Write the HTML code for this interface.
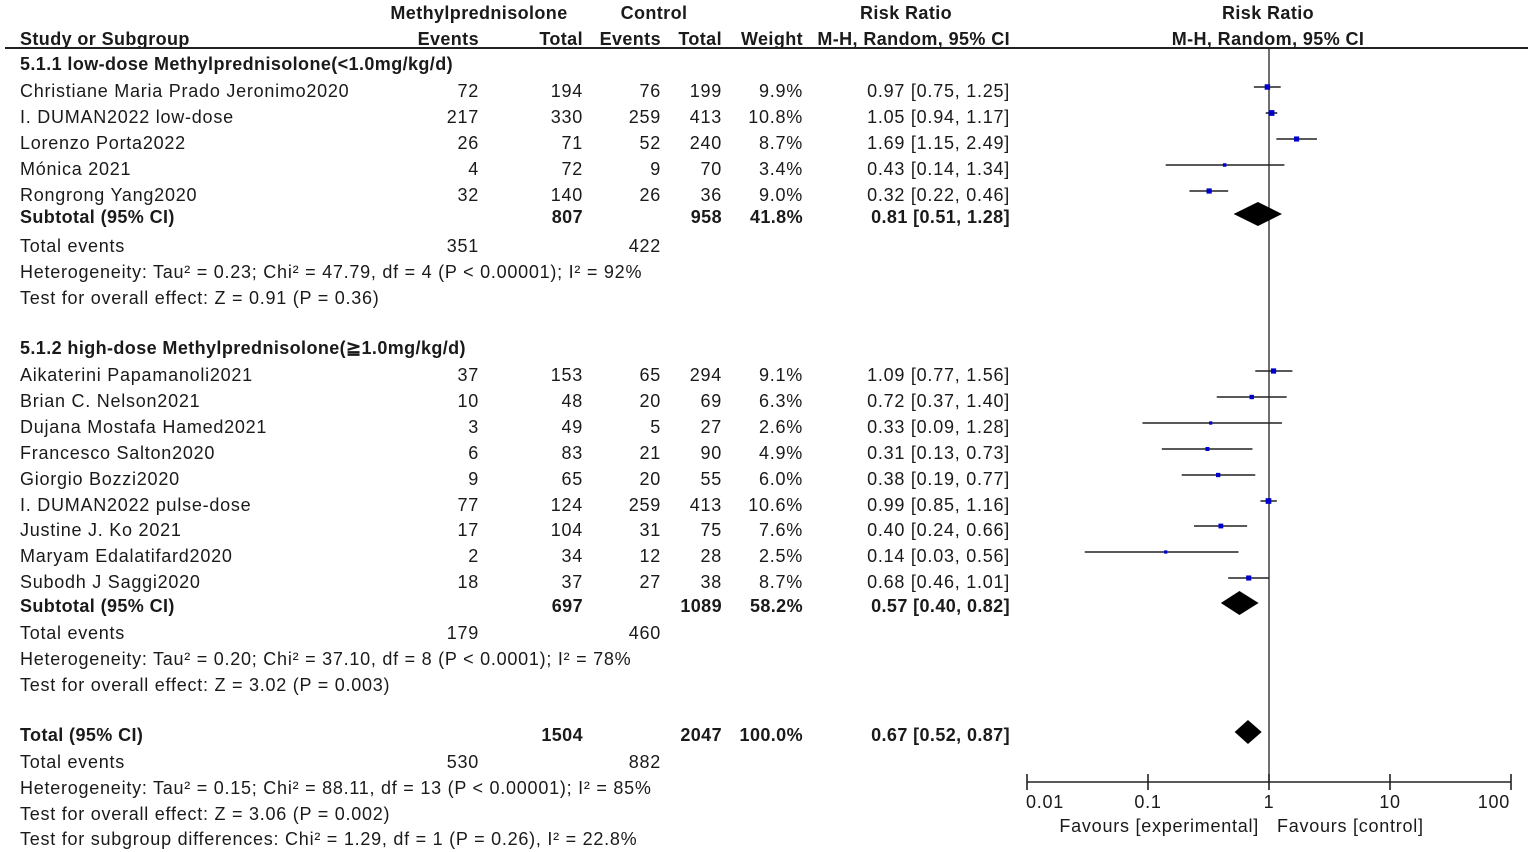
<!DOCTYPE html>
<html><head><meta charset="utf-8"><style>
html,body{margin:0;padding:0;background:#fff;}
svg{display:block;font-family:"Liberation Sans",Arial,sans-serif;}
text{fill:#1a1a1a;font-size:18px;letter-spacing:0.75px;}
.b{font-weight:bold;letter-spacing:0.4px;}
</style></head><body>
<svg id="chart" width="1535" height="852" viewBox="0 0 1535 852"></svg>
<script>
const studyNames=["Christiane Maria Prado Jeronimo2020","I. DUMAN2022 low-dose","Lorenzo Porta2022","Mónica 2021","Rongrong Yang2020",
"Aikaterini Papamanoli2021","Brian C. Nelson2021","Dujana Mostafa Hamed2021","Francesco Salton2020","Giorgio Bozzi2020","I. DUMAN2022 pulse-dose","Justine J. Ko 2021","Maryam Edalatifard2020","Subodh J Saggi2020"];
const expEvents=[72,217,26,4,32,37,10,3,6,9,77,17,2,18];
const expTotal=[194,330,71,72,140,153,48,49,83,65,124,104,34,37];
const ctlEvents=[76,259,52,9,26,65,20,5,21,20,259,31,12,27];
const ctlTotal=[199,413,240,70,36,294,69,27,90,55,413,75,28,38];
const weights=[9.9,10.8,8.7,3.4,9.0,9.1,6.3,2.6,4.9,6.0,10.6,7.6,2.5,8.7];
const rr=[0.97,1.05,1.69,0.43,0.32,1.09,0.72,0.33,0.31,0.38,0.99,0.40,0.14,0.68];
const lo=[0.75,0.94,1.15,0.14,0.22,0.77,0.37,0.09,0.13,0.19,0.85,0.24,0.03,0.46];
const hi=[1.25,1.17,2.49,1.34,0.46,1.56,1.40,1.28,0.73,0.77,1.16,0.66,0.56,1.01];
const studyRowY=[91,117,143,169,195,375,401,427,453,479,505,530,556,582];
const pooledLabels=["Subtotal (95% CI)","Subtotal (95% CI)","Total (95% CI)"];
const pooledRR=[0.81,0.57,0.67];
const pooledLo=[0.51,0.40,0.52];
const pooledHi=[1.28,0.82,0.87];
const pooledExpTotal=[807,697,1504];
const pooledCtlTotal=[958,1089,2047];
const pooledWeight=["41.8%","58.2%","100.0%"];
const pooledY=[217,606,735];
const axisTicks=[0.01,0.1,1,10,100];
const axisTickLabels=["0.01","0.1","1","10","100"];

const svg=document.getElementById('chart');
const NS="http://www.w3.org/2000/svg";
function el(tag,attrs,parent){const e=document.createElementNS(NS,tag);for(const k in attrs)e.setAttribute(k,attrs[k]);(parent||svg).appendChild(e);return e;}
function txt(x,y,s,anchor,cls,name){const t=el('text',{x:x,y:y,'text-anchor':anchor||'start'});if(cls)t.setAttribute('class',cls);t.textContent=s;


return t;}
const X0=1027,X1=1511;
function xs(v){return X0+(Math.log10(v)+2)/4*(X1-X0);}
const off=6;
txt(479,19,"Methylprednisolone","middle","b","group-header-exp");
txt(654,19,"Control","middle","b","group-header-ctl");
txt(906,19,"Risk Ratio","middle","b","rr-header");
txt(1268,19,"Risk Ratio","middle","b","plot-header");
txt(20,45,"Study or Subgroup","start","b","study-header");
txt(479,45,"Events","end","b","exp-events-header");
txt(583,45,"Total","end","b","exp-total-header");
txt(661,45,"Events","end","b","ctl-events-header");
txt(722,45,"Total","end","b","ctl-total-header");
txt(803,45,"Weight","end","b","weight-header");
txt(1010,45,"M-H, Random, 95% CI","end","b","rr-method-header");
txt(1268,45,"M-H, Random, 95% CI","middle","b","plot-method-header");
const hl=el('line',{x1:5,y1:48,x2:1528,y2:48,stroke:'#222','stroke-width':2});


const nl=el('line',{x1:xs(1),y1:48,x2:xs(1),y2:782,stroke:'#222','stroke-width':1.3});


txt(20,64+off,"5.1.1 low-dose Methylprednisolone(<1.0mg/kg/d)","start","b","subgroup1-title");
txt(20,348+off,"5.1.2 high-dose Methylprednisolone(\u22671.0mg/kg/d)","start","b","subgroup2-title");
for(let i=0;i<studyNames.length;i++){
  const y=studyRowY[i];
  txt(20,y+off,studyNames[i],"start",null,"study-name");
  txt(479,y+off,String(expEvents[i]),"end",null,"exp-events");
  txt(583,y+off,String(expTotal[i]),"end",null,"exp-total");
  txt(661,y+off,String(ctlEvents[i]),"end",null,"ctl-events");
  txt(722,y+off,String(ctlTotal[i]),"end",null,"ctl-total");
  txt(803,y+off,weights[i].toFixed(1)+"%","end",null,"weight");
  txt(1010,y+off,rr[i].toFixed(2)+" ["+lo[i].toFixed(2)+", "+hi[i].toFixed(2)+"]","end",null,"rr-ci");
  const my=y-4;
  const ci=el('line',{x1:xs(lo[i]),y1:my,x2:xs(hi[i]),y2:my,stroke:'#222','stroke-width':1.6});
  
  
  const s=2.5+weights[i]*0.3;
  const sq=el('rect',{x:xs(rr[i])-s/2,y:my-s/2,width:s,height:s,fill:'#0000cc'});
  
  
}
for(let j=0;j<3;j++){
  const y=pooledY[j];
  txt(20,y+off,pooledLabels[j],"start","b","pooled-label");
  txt(583,y+off,String(pooledExpTotal[j]),"end","b","pooled-exp-total");
  txt(722,y+off,String(pooledCtlTotal[j]),"end","b","pooled-ctl-total");
  txt(803,y+off,pooledWeight[j],"end","b","pooled-weight");
  txt(1010,y+off,pooledRR[j].toFixed(2)+" ["+pooledLo[j].toFixed(2)+", "+pooledHi[j].toFixed(2)+"]","end","b","pooled-rr-ci");
  const my=y-3,h=12;
  const d=el('polygon',{points:xs(pooledLo[j])+","+my+" "+xs(pooledRR[j])+","+(my-h)+" "+xs(pooledHi[j])+","+my+" "+xs(pooledRR[j])+","+(my+h),fill:'#000'});
  
  
}
const stats=[[246,"Total events"],[272,"Heterogeneity: Tau\u00b2 = 0.23; Chi\u00b2 = 47.79, df = 4 (P < 0.00001); I\u00b2 = 92%"],[298,"Test for overall effect: Z = 0.91 (P = 0.36)"],
[633,"Total events"],[659,"Heterogeneity: Tau\u00b2 = 0.20; Chi\u00b2 = 37.10, df = 8 (P < 0.0001); I\u00b2 = 78%"],[685,"Test for overall effect: Z = 3.02 (P = 0.003)"],
[762,"Total events"],[788,"Heterogeneity: Tau\u00b2 = 0.15; Chi\u00b2 = 88.11, df = 13 (P < 0.00001); I\u00b2 = 85%"],[814,"Test for overall effect: Z = 3.06 (P = 0.002)"],[839,"Test for subgroup differences: Chi\u00b2 = 1.29, df = 1 (P = 0.26), I\u00b2 = 22.8%"]];
stats.forEach(s=>txt(20,s[0]+off,s[1],"start",null,"stats-line"));
const tev=[[246,351,422],[633,179,460],[762,530,882]];
tev.forEach(t=>{txt(479,t[0]+off,String(t[1]),"end",null,"exp-total-events");txt(661,t[0]+off,String(t[2]),"end",null,"ctl-total-events");});
const ax=el('line',{x1:X0,y1:782,x2:X1,y2:782,stroke:'#222','stroke-width':1.6});


axisTicks.forEach((v,k)=>{
  const tk=el('line',{x1:xs(v),y1:774,x2:xs(v),y2:790,stroke:'#222','stroke-width':1.6});
  
  
  const a=k===0?'start':(k===axisTicks.length-1?'end':'middle');
  txt(k===0?X0-1:(k===axisTicks.length-1?X1-1:xs(v)),808,axisTickLabels[k],a,null,"x-tick-label");
});
txt(1259,832,"Favours [experimental]","end",null,"favours-experimental");
txt(1277,832,"Favours [control]","start",null,"favours-control");
</script>
</body></html>
